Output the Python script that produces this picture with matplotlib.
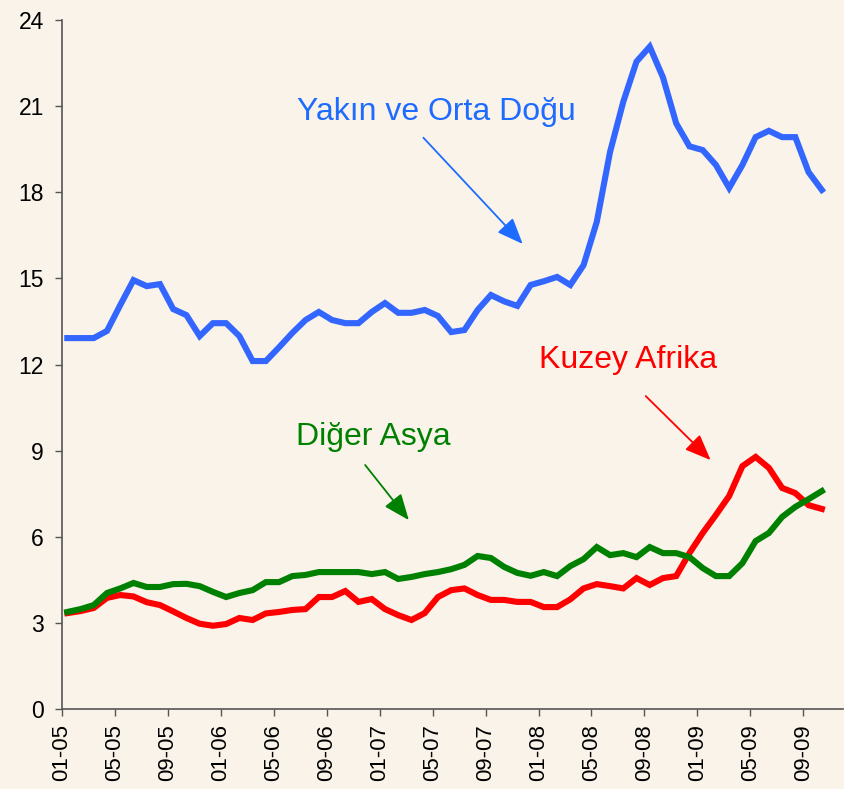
import numpy as np
import matplotlib
matplotlib.use("Agg")
import matplotlib.pyplot as plt

plt.rcParams['font.family'] = ['Liberation Sans', 'DejaVu Sans']

# monthly values, 01-05 .. 10-09
yakin_orta_dogu = [12.92, 12.92, 12.92, 13.17, 14.07, 14.94, 14.73, 14.80, 13.93, 13.72,
                   12.99, 13.44, 13.44, 12.99, 12.12, 12.12, 12.60, 13.10, 13.55, 13.83,
                   13.55, 13.44, 13.44, 13.83, 14.14, 13.80, 13.80, 13.90, 13.69, 13.13,
                   13.20, 13.90, 14.42, 14.20, 14.04, 14.77, 14.90, 15.05, 14.77, 15.46,
                   16.97, 19.40, 21.15, 22.55, 23.07, 22.00, 20.40, 19.60, 19.47, 18.95,
                   18.15, 18.95, 19.92, 20.14, 19.92, 19.92, 18.70, 18.08]
kuzey_afrika = [3.34, 3.41, 3.52, 3.87, 3.97, 3.92, 3.72, 3.62, 3.40, 3.17,
                2.97, 2.90, 2.96, 3.17, 3.10, 3.33, 3.38, 3.45, 3.48, 3.90,
                3.90, 4.11, 3.73, 3.83, 3.48, 3.27, 3.10, 3.34, 3.90, 4.14,
                4.20, 3.97, 3.80, 3.80, 3.73, 3.73, 3.55, 3.55, 3.82, 4.20,
                4.35, 4.28, 4.20, 4.56, 4.32, 4.56, 4.63, 5.43, 6.13, 6.76,
                7.42, 8.46, 8.78, 8.40, 7.70, 7.52, 7.10, 6.97]
diger_asya = [3.38, 3.48, 3.62, 4.04, 4.20, 4.39, 4.25, 4.25, 4.35, 4.36,
              4.28, 4.08, 3.90, 4.04, 4.14, 4.42, 4.42, 4.63, 4.67, 4.77,
              4.77, 4.77, 4.77, 4.70, 4.77, 4.53, 4.60, 4.70, 4.77, 4.87,
              5.02, 5.33, 5.26, 4.95, 4.74, 4.64, 4.77, 4.63, 4.98, 5.22,
              5.64, 5.36, 5.43, 5.29, 5.64, 5.43, 5.43, 5.29, 4.91, 4.63,
              4.63, 5.08, 5.85, 6.13, 6.69, 7.04, 7.31, 7.59]
tick_labels = ['01-05', '05-05', '09-05', '01-06', '05-06', '09-06', '01-07', '05-07',
               '09-07', '01-08', '05-08', '09-08', '01-09', '05-09', '09-09']

bg = '#F9F3E9'
blue = '#3366FF'
red = '#FF0000'
green = '#008000'

fig = plt.figure(figsize=(8.45, 7.89), dpi=100, facecolor=bg)
ax = fig.add_axes([62/845, 80/789, 781/845, 689/789], facecolor=bg)

x = np.arange(len(yakin_orta_dogu)) + 0.4
ax.plot(x, yakin_orta_dogu, color=blue, lw=4.4, solid_joinstyle='miter')
ax.plot(x, kuzey_afrika, color=red, lw=4.4, solid_joinstyle='miter')
ax.plot(x, diger_asya, color=green, lw=4.4, solid_joinstyle='miter')

ax.set_xlim(0, 59)
ax.set_ylim(0, 24)
ax.set_yticks(np.arange(0, 25, 3))
ax.set_xticks(np.arange(len(tick_labels)) * 4)
ax.set_xticklabels(tick_labels, rotation=90)
ax.tick_params(axis='both', direction='out', length=5, width=1, color='#555555')
ax.tick_params(axis='y', pad=8, labelsize=16.5)
ax.tick_params(axis='x', pad=6, labelsize=16)
for s in ['top', 'right']:
    ax.spines[s].set_visible(False)
for s in ['left', 'bottom']:
    ax.spines[s].set_color('#555555')
    ax.spines[s].set_linewidth(1.2)

def label(txt, xy, xytext, tpos, col):
    ax.text(tpos[0], tpos[1], txt, color=col, fontsize=23, ha='center', va='center')
    ax.annotate('', xy=xy, xytext=xytext,
                arrowprops=dict(arrowstyle='-|>,head_length=1.6,head_width=0.65',
                                color=col, lw=1.3, shrinkA=0, shrinkB=0))

label('Yakın ve Orta Doğu', (34.8, 16.2), (27.3, 19.9), (28.3, 20.8), '#1E6BFF')
label('Kuzey Afrika', (49.0, 8.67), (44.1, 10.9), (42.8, 12.15), red)
label('Diğer Asya', (26.2, 6.58), (22.9, 8.5), (23.5, 9.47), green)

fig.savefig('out.png', dpi=100, facecolor=bg)
